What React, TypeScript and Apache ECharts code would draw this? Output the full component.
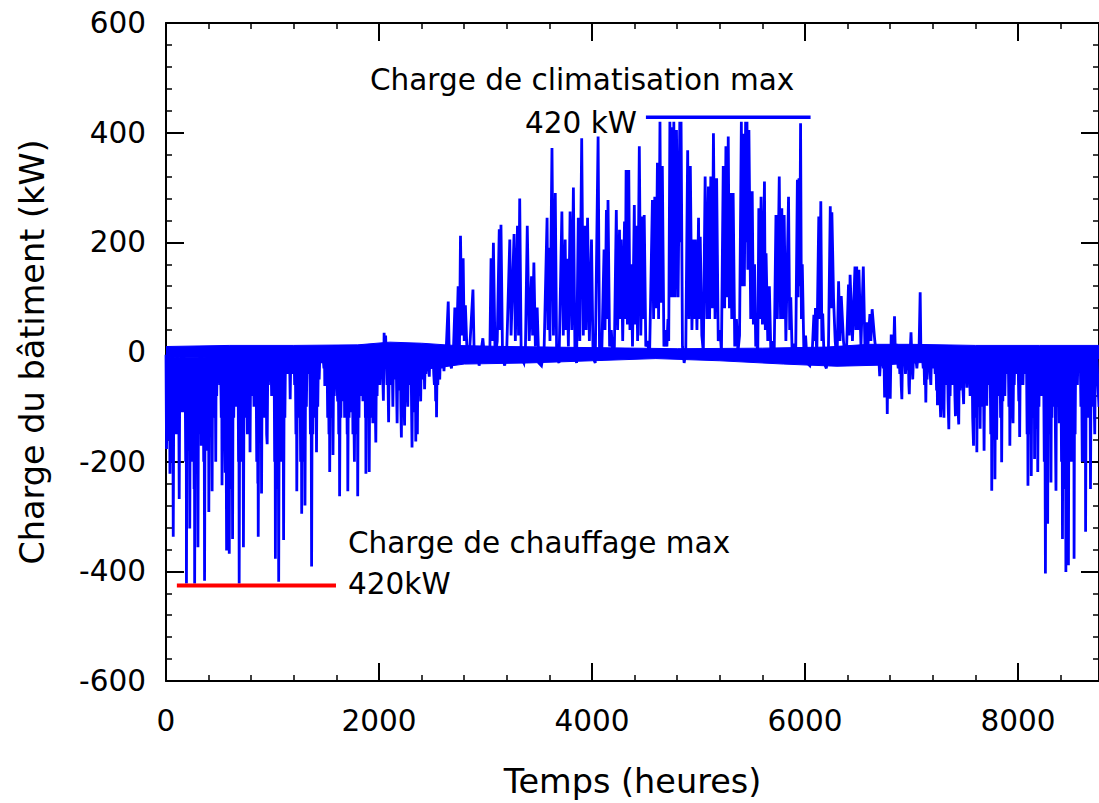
import { useEffect, useRef } from "react";
import * as echarts from "echarts";

// ---------- data ----------
const X_MIN = 0;
const X_MAX = 8760;
const Y_MIN = -600;
const Y_MAX = 600;
const xMajorInterval = 2000;
const xMinorInterval = 400;
const yMajorInterval = 200;
const yMinorInterval = 40;

const xAxisTitle = "Temps (heures)";
const yAxisTitle = "Charge du bâtiment (kW)";
const coolingLabel = "Charge de climatisation max";
const coolingValueLabel = "420 kW";
const heatingLabel = "Charge de chauffage max";
const heatingValueLabel = "420kW";

// hourly building load (kW): cooling > 0, heating < 0 (peaks)
const winterLoad: [number, number][] = [
  [0,-5],[5,-177],[11,-10],[16,-160],[22,-5],[28,-150],[33,-10],[37,-222],[42,-10],[47,-200],[52,-10],[58,-120],[63,-5],[68,-337],[74,-15],[80,-150],[86,-10],[92,-120],[96,-10],[100,-150],[106,-5],[112,-60],[118,-10],[124,-268],[130,-10],[136,-110],[142,-5],[150,-90],[155,-10],[161,-110],[168,-5],[174,-60],[179,-10],[185,-200],[190,-10],[192,-422],[197,-15],[205,-150],[210,-10],[216,-180],[220,-10],[223,-322],[229,-10],[235,-140],[240,-10],[245,-200],[250,-10],[255,-100],[260,-10],[264,-250],[267,-10],[269,-422],[275,-15],[280,-200],[286,-10],[292,-220],[296,-10],[300,-356],[306,-15],[312,-150],[318,-5],[324,-120],[328,-10],[331,-171],[337,-5],[342,-90],[348,-10],[354,-200],[358,-10],[362,-417],[368,-15],[374,-180],[380,-10],[386,-120],[392,-10],[397,-180],[400,-10],[402,-292],[408,-10],[413,-150],[418,-10],[424,-150],[429,-10],[433,-254],[438,-10],[444,-100],[450,-5],[456,-120],[462,-10],[467,-200],[471,-10],[476,-80],[482,-5],[490,-40],[498,-5],[505,-60],[512,-5],[519,-120],[523,-10],[526,-243],[532,-10],[538,-150],[544,-10],[550,-100],[556,-220],[562,-10],[569,-362],[574,-15],[580,-200],[584,-10],[587,-250],[591,-10],[594,-368],[599,-15],[605,-200],[610,-10],[615,-250],[620,-10],[625,-341],[630,-10],[636,-120],[642,-5],[650,-60],[656,-100],[662,-5],[670,-30],[676,-5],[681,-200],[684,-10],[687,-422],[693,-15],[699,-200],[705,-10],[711,-90],[716,-200],[722,-10],[727,-356],[733,-10],[739,-120],[745,-5],[752,-90],[758,-10],[764,-150],[770,-10],[776,-90],[782,-120],[786,-10],[789,-183],[795,-10],[801,-80],[808,-5],[815,-60],[820,-5],[826,-100],[832,-10],[838,-60],[845,-5],[852,-200],[858,-10],[862,-240],[864,-10],[866,-337],[872,-15],[878,-150],[884,-10],[890,-160],[894,-10],[897,-258],[903,-10],[909,-120],[915,-5],[922,-80],[928,-10],[935,-120],[940,-10],[945,-150],[950,-168],[956,-10],[962,-60],[970,-5],[978,-40],[985,-5],[992,-80],[996,-80],[1002,-5],[1010,-30],[1015,-5],[1020,-200],[1024,-10],[1027,-377],[1032,-15],[1038,-200],[1043,-10],[1049,-250],[1053,-10],[1058,-419],[1064,-15],[1070,-200],[1076,-10],[1082,-90],[1088,-10],[1094,-200],[1099,-10],[1104,-343],[1110,-10],[1116,-120],[1122,-5],[1130,-40],[1138,-5],[1145,-10],[1155,-40],[1160,-5],[1166,-86],[1172,-5],[1180,-40],[1187,-5],[1195,-30],[1202,-5],[1208,-60],[1214,-10],[1220,-150],[1225,-10],[1228,-254],[1234,-10],[1240,-120],[1246,-10],[1252,-80],[1258,-10],[1264,-200],[1270,-10],[1274,-295],[1280,-10],[1286,-150],[1292,-10],[1298,-200],[1302,-10],[1305,-280],[1311,-10],[1318,-100],[1324,-5],[1332,-40],[1340,-5],[1350,-10],[1356,-150],[1362,-10],[1367,-391],[1373,-15],[1379,-150],[1385,-10],[1392,-60],[1398,-10],[1404,-120],[1409,-10],[1413,-183],[1419,-10],[1425,-100],[1431,-5],[1438,-50],[1445,-5],[1455,-20],[1465,-5],[1475,-10],[1483,-30],[1488,-5],[1491,-62],[1497,-5],[1505,-30],[1512,-5],[1518,-120],[1524,-10],[1530,-150],[1534,-10],[1537,-219],[1543,-10],[1549,-100],[1555,-10],[1561,-120],[1565,-10],[1568,-188],[1574,-10],[1580,-80],[1586,-5],[1594,-40],[1600,-5],[1606,-60],[1612,-90],[1617,-10],[1622,-150],[1627,-10],[1630,-263],[1636,-10],[1642,-120],[1648,-5],[1655,-60],[1661,-10],[1667,-90],[1673,-10],[1677,-120],[1683,-5],[1690,-30],[1696,-10],[1701,-150],[1704,-10],[1707,-254],[1713,-10],[1719,-120],[1725,-10],[1731,-70],[1737,-10],[1743,-110],[1749,-10],[1755,-150],[1760,-10],[1766,-150],[1769,-200],[1775,-10],[1781,-90],[1787,-5],[1793,-150],[1797,-10],[1800,-263],[1806,-10],[1812,-120],[1818,-5],[1825,-60],[1831,-10],[1837,-80],[1843,-10],[1849,-90],[1855,-5],[1862,-30],[1868,-10],[1872,-120],[1875,-10],[1877,-222],[1883,-10],[1889,-100],[1895,-5],[1901,-120],[1905,-10],[1908,-219],[1914,-10],[1920,-120],[1926,-5],[1932,-90],[1938,-10],[1942,-130],[1948,-10],[1954,-80],[1960,-5],[1965,-100],[1970,-165],[1976,-10],[1982,-80],[1988,-5],[1996,-30],[2002,-5],[2008,-60],[2014,-5],[2022,-30],[2030,-5],[2041,-89],
  [2048,35],[2055,-20],[2062,30],[2068,-10],[2075,-60],[2081,-5],[2090,-128],[2096,-10],[2102,-60],[2108,-5],[2115,-20],[2121,-5],[2127,-60],[2130,-100],[2136,-10],[2142,-50],[2148,-5],[2155,-20],[2161,-5],[2166,-80],[2170,-130],[2176,-10],[2182,-70],[2188,-5],[2195,-40],[2201,-10],[2205,-100],[2210,-156],[2216,-10],[2222,-90],[2228,-5],[2234,-90],[2240,-134],[2246,-10],[2252,-70],[2258,-5],[2264,-60],[2270,-100],[2276,-10],[2282,-60],[2288,-5],[2295,-40],[2301,-10],[2306,-110],[2310,-174],[2316,-10],[2322,-100],[2328,-5],[2335,-110],[2341,-10],[2345,-163],[2351,-10],[2356,-120],[2360,-150],[2366,-10],[2372,-80],[2378,-5],[2385,-40],[2391,-90],[2397,-5],[2404,-50],[2410,-10],[2416,-30],[2422,-5],[2428,-68],[2434,-10],[2440,-40],[2446,-5],[2452,-20],[2460,-5],[2466,-30],[2472,-45],[2478,-5],[2485,-30],[2492,-5],[2500,-20],[2508,-5],[2514,-40],[2520,-60],[2526,-10],[2532,-90],[2537,-10],[2540,-119],[2546,-10],[2552,-60],[2558,-5],[2564,-45],[2570,-50],[2576,-5],[2583,-30],[2590,-5],[2598,-20],[2604,-5],[2610,-35],[2620,0],
];

const summerLoad: [number, number][] = [
  [2630,0],[2650,92],[2660,-10],[2680,-30],[2700,10],[2712,81],[2725,-10],[2743,120],[2755,0],[2765,212],[2778,30],[2790,171],[2800,20],[2811,85],[2830,-20],[2850,0],[2882,114],[2895,-20],[2920,10],[2940,-25],[2975,25],[2995,-20],[3020,10],[3040,-10],[3052,171],[3062,20],[3074,199],[3090,-10],[3110,20],[3129,224],[3138,40],[3145,232],[3160,-10],[3180,-25],[3200,10],[3228,205],[3240,30],[3268,215],[3280,20],[3300,230],[3310,30],[3321,280],[3335,-10],[3360,-20],[3375,10],[3392,230],[3410,20],[3432,138],[3442,30],[3454,163],[3468,10],[3485,81],[3500,-20],[3525,-25],[3550,5],[3578,245],[3586,40],[3593,190],[3605,20],[3624,372],[3638,30],[3655,290],[3668,-10],[3690,-20],[3717,256],[3730,30],[3748,205],[3756,40],[3764,170],[3778,10],[3794,256],[3810,40],[3825,300],[3840,-10],[3855,-20],[3871,245],[3885,20],[3903,390],[3918,30],[3933,230],[3945,40],[3958,245],[3975,20],[3995,205],[4010,-10],[4030,-20],[4057,393],[4070,10],[4090,-15],[4113,187],[4122,40],[4135,259],[4142,60],[4150,277],[4165,10],[4181,40],[4195,-10],[4210,10],[4228,259],[4240,40],[4258,223],[4266,60],[4274,205],[4288,20],[4305,238],[4312,60],[4320,332],[4332,50],[4345,332],[4356,40],[4367,160],[4380,10],[4397,268],[4405,50],[4413,230],[4428,20],[4444,375],[4458,30],[4475,247],[4482,60],[4490,250],[4505,10],[4521,20],[4540,-10],[4567,277],[4578,60],[4589,283],[4600,80],[4614,345],[4625,60],[4638,420],[4648,90],[4660,339],[4675,10],[4691,40],[4703,10],[4713,60],[4720,20],[4731,420],[4740,100],[4752,410],[4760,100],[4768,420],[4780,100],[4793,405],[4808,100],[4824,420],[4830,200],[4836,420],[4849,10],[4865,-20],[4880,0],[4898,368],[4910,60],[4923,339],[4938,40],[4954,205],[4962,60],[4970,205],[4985,40],[5000,245],[5008,60],[5016,210],[5031,30],[5045,0],[5062,320],[5078,60],[5093,302],[5104,60],[5115,320],[5128,80],[5140,399],[5155,60],[5170,317],[5185,20],[5202,40],[5215,0],[5232,339],[5245,80],[5257,375],[5268,100],[5279,393],[5290,80],[5300,290],[5312,60],[5325,290],[5340,10],[5356,60],[5370,0],[5385,30],[5402,420],[5410,120],[5418,398],[5430,120],[5442,420],[5450,200],[5455,420],[5463,150],[5473,405],[5490,60],[5504,293],[5515,50],[5526,160],[5537,10],[5548,20],[5556,-10],[5566,262],[5576,60],[5587,283],[5600,50],[5619,311],[5627,40],[5634,180],[5650,20],[5665,120],[5680,-10],[5696,20],[5710,-10],[5727,250],[5740,60],[5758,320],[5770,60],[5782,262],[5793,60],[5804,250],[5820,20],[5845,283],[5856,40],[5866,100],[5880,-10],[5897,15],[5912,-10],[5928,314],[5935,100],[5943,317],[5950,120],[5958,417],[5966,60],[5974,160],[5990,-10],[6005,30],[6020,-20],[6045,-25],[6065,-10],[6083,68],[6090,20],[6098,80],[6110,-10],[6129,247],[6138,60],[6148,275],[6158,20],[6166,70],[6180,-20],[6200,-30],[6220,10],[6237,266],[6245,80],[6252,255],[6268,96],[6283,20],[6300,-20],[6315,129],[6328,20],[6340,102],[6361,20],[6385,-25],[6408,123],[6415,30],[6423,141],[6445,20],[6469,156],[6477,40],[6485,156],[6495,40],[6506,150],[6525,10],[6547,156],[6562,10],[6578,54],[6590,10],[6609,69],[6618,20],[6630,78],[6655,20],
];

const autumnLoad: [number, number][] = [
  [6680,-20],[6690,0],[6701,-44],[6715,10],[6725,-10],[6735,-30],[6741,-5],[6747,-83],[6753,-5],[6760,-40],[6766,-5],[6772,-113],[6778,-5],[6785,-30],[6792,-5],[6800,-85],[6809,32],[6817,-10],[6825,-20],[6832,0],[6840,65],[6848,-5],[6856,15],[6866,-10],[6875,-30],[6882,0],[6890,-40],[6897,-5],[6903,-60],[6909,-86],[6915,-5],[6925,-20],[6935,0],[6943,-40],[6949,-40],[6956,0],[6962,10],[6970,-10],[6975,-60],[6979,-77],[6986,-5],[6995,36],[7003,-10],[7011,-50],[7020,0],[7030,10],[7040,-10],[7050,-30],[7060,-5],[7070,0],[7081,109],[7088,-5],[7094,10],[7102,-10],[7110,-30],[7116,-5],[7122,-60],[7128,-5],[7134,-92],[7140,-5],[7146,-50],[7152,-5],[7160,-20],[7168,-5],[7175,-40],[7181,-60],[7187,-5],[7195,-30],[7202,-5],[7210,-30],[7215,-5],[7222,-40],[7228,-5],[7235,-70],[7240,-10],[7243,-97],[7249,-10],[7255,-60],[7261,-5],[7267,-80],[7273,-119],[7279,-10],[7285,-80],[7291,-5],[7297,-90],[7304,-120],[7310,-10],[7316,-60],[7322,-5],[7330,-20],[7337,-5],[7343,-90],[7350,-141],[7356,-10],[7362,-80],[7368,-5],[7375,-40],[7382,-60],[7388,-5],[7395,-20],[7401,-5],[7407,-80],[7412,-117],[7418,-10],[7424,-80],[7430,-5],[7436,-100],[7443,-132],[7449,-10],[7455,-70],[7461,-5],[7468,-30],[7475,-5],[7481,-60],[7489,-95],[7495,-5],[7501,-50],[7507,-5],[7514,-40],[7520,-65],[7526,-5],[7533,-40],[7540,-5],
  [7550,-80],[7556,-5],[7562,-60],[7568,-10],[7574,-120],[7582,-171],[7588,-10],[7593,-100],[7598,-5],[7604,-120],[7610,-10],[7613,-183],[7619,-10],[7624,-100],[7630,-5],[7636,-90],[7641,-10],[7644,-140],[7650,-10],[7656,-80],[7662,-5],[7668,-100],[7674,-10],[7681,-180],[7687,-10],[7692,-80],[7698,-5],[7703,-70],[7706,-98],[7712,-5],[7718,-60],[7724,-5],[7731,-30],[7737,-10],[7744,-150],[7750,-10],[7753,-253],[7759,-10],[7764,-150],[7769,-10],[7775,-160],[7780,-10],[7783,-232],[7789,-10],[7794,-60],[7797,-10],[7799,-160],[7805,-10],[7811,-80],[7817,-5],[7824,-30],[7830,-10],[7836,-120],[7842,-10],[7846,-201],[7852,-10],[7857,-90],[7863,-5],[7870,-50],[7876,-80],[7882,-5],[7889,-40],[7895,-5],[7902,-20],[7908,-5],[7914,-100],[7920,-10],[7923,-171],[7929,-10],[7934,-100],[7940,-5],[7946,-90],[7953,-130],[7959,-10],[7964,-60],[7970,-5],[7977,-30],[7984,-40],[7990,-5],[8000,-10],[8007,-90],[8011,-5],[8015,-155],[8021,-10],[8026,-60],[8032,-5],[8039,-40],[8046,-60],[8052,-5],[8060,-40],[8066,-5],[8073,-20],[8079,-5],[8085,-150],[8090,-10],[8093,-244],[8099,-10],[8104,-150],[8110,-10],[8116,-150],[8121,-10],[8124,-226],[8130,-10],[8135,-120],[8141,-10],[8147,-120],[8152,-10],[8155,-195],[8161,-10],[8166,-100],[8171,-5],[8177,-140],[8182,-10],[8185,-219],[8191,-10],[8196,-100],[8202,-5],[8208,-50],[8213,-5],[8216,-80],[8222,-5],[8228,-40],[8234,-5],[8240,-20],[8246,-200],[8251,-10],[8257,-404],[8262,-10],[8266,-200],[8270,-10],[8274,-200],[8278,-313],[8283,-10],[8288,-150],[8293,-10],[8300,-150],[8305,-10],[8309,-238],[8314,-10],[8318,-120],[8322,-5],[8327,-70],[8331,-100],[8336,-5],[8341,-50],[8346,-5],[8351,-150],[8356,-253],[8361,-10],[8366,-100],[8371,-5],[8377,-80],[8383,-10],[8387,-130],[8392,-5],[8397,-60],[8402,-5],[8408,-200],[8413,-10],[8417,-341],[8422,-10],[8426,-200],[8431,-10],[8436,-100],[8441,-250],[8445,-10],[8449,-401],[8454,-10],[8458,-250],[8462,-10],[8466,-250],[8470,-10],[8473,-389],[8478,-10],[8482,-150],[8487,-5],[8491,-120],[8495,-200],[8500,-10],[8505,-100],[8510,-5],[8516,-40],[8520,-200],[8524,-10],[8526,-377],[8531,-10],[8536,-150],[8541,-5],[8547,-50],[8552,-5],[8557,-60],[8563,-5],[8570,-30],[8577,-5],[8584,-10],[8590,-100],[8596,-10],[8603,-200],[8608,-10],[8613,-100],[8618,-5],[8624,-60],[8629,-200],[8632,-10],[8634,-328],[8640,-10],[8645,-120],[8650,-5],[8657,-40],[8663,-5],[8670,-120],[8675,-10],[8680,-250],[8686,-10],[8691,-100],[8697,-5],[8703,-40],[8709,-5],[8714,-80],[8720,-150],[8726,-10],[8731,-60],[8737,-5],[8743,-20],[8750,-60],[8760,-100],
];

// dense daily oscillation band around zero (upper / lower envelope)
const bandUpper: [number, number][] = [
  [0,10],[600,12],[1200,12],[1800,13],[2100,18],[2400,16],[2700,12],[3200,10],[4000,8],[4800,6],[5600,7],[6200,9],[6600,14],[7000,14],[7600,12],[8200,12],[8760,12],
];
const bandLower: [number, number][] = [
  [0,-10],[800,-12],[1600,-16],[2100,-26],[2500,-30],[2800,-22],[3400,-20],[4000,-16],[4600,-12],[5200,-16],[5800,-22],[6300,-26],[6700,-24],[7200,-18],[7800,-14],[8760,-12],
];

// max-load marker lines
const coolingMaxLine: [number, number][] = [[4506, 428], [6052, 428]];
const heatingMaxLine: [number, number][] = [[102, -426], [1596, -426]];

const FONT = "DejaVu Sans";
const BLUE = "#0000ff";
const RED = "#ff0000";
const MAJOR_LEN = 18;
const MINOR_LEN = 6;

const plainNumber = (v: number) => String(v);

// axis that only draws the frame line (and optionally labels)
function frameAxis(extra: any) {
  return {
    type: "value",
    axisLine: { show: true, onZero: false, lineStyle: { color: "#000", width: 2 } },
    axisTick: { show: false },
    splitLine: { show: false },
    ...extra,
  };
}
// axis that only draws ticks; shifted inward by the tick length so ticks point into the plot
function tickAxis(position: string, min: number, max: number, interval: number, len: number, width: number) {
  return {
    type: "value",
    position,
    min, max, interval,
    offset: -len,
    axisLine: { show: false, onZero: false },
    axisLabel: { show: false },
    splitLine: { show: false },
    axisTick: { show: true, inside: false, length: len, lineStyle: { color: "#000", width } },
  };
}

export default function App() {
  const ref = useRef<HTMLDivElement>(null);
  useEffect(() => {
    if (!ref.current) return;
    const chart = echarts.init(ref.current, undefined, { renderer: "svg" });
    const labelStyle = { color: "#000", fontFamily: FONT, fontSize: 29.5, formatter: plainNumber };
    const titleStyle = { color: "#000", fontFamily: FONT, fontSize: 33.5 };
    const lineSeries = (name: string, data: [number, number][], color: string, width: number, area = false) => ({
      type: "line", name, data, showSymbol: false, symbol: "none", silent: true,
      xAxisIndex: 0, yAxisIndex: 0,
      lineStyle: { color, width, join: "miter" },
      ...(area ? { areaStyle: { color, opacity: 1 } } : {}),
    });
    const option: any = {
      animation: false,
      backgroundColor: "#fff",
      grid: { left: 166, top: 23, width: 944, height: 660, containLabel: false },
      xAxis: [
        frameAxis({
          position: "bottom", min: X_MIN, max: X_MAX, interval: xMajorInterval,
          name: xAxisTitle, nameLocation: "middle", nameGap: 83, nameTextStyle: titleStyle,
          axisLabel: { ...labelStyle, margin: 25, showMaxLabel: false },
        }),
        frameAxis({ position: "top", min: X_MIN, max: X_MAX, interval: xMajorInterval, axisLabel: { show: false } }),
        tickAxis("bottom", X_MIN, X_MAX, xMajorInterval, MAJOR_LEN, 2),
        tickAxis("bottom", X_MIN, X_MAX, xMinorInterval, MINOR_LEN, 1.5),
        tickAxis("top", X_MIN, X_MAX, xMajorInterval, MAJOR_LEN, 2),
        tickAxis("top", X_MIN, X_MAX, xMinorInterval, MINOR_LEN, 1.5),
      ],
      yAxis: [
        frameAxis({
          position: "left", min: Y_MIN, max: Y_MAX, interval: yMajorInterval,
          name: yAxisTitle, nameLocation: "middle", nameGap: 117, nameTextStyle: titleStyle,
          axisLabel: { ...labelStyle, margin: 20 },
        }),
        frameAxis({ position: "right", min: Y_MIN, max: Y_MAX, interval: yMajorInterval, axisLabel: { show: false } }),
        tickAxis("left", Y_MIN, Y_MAX, yMajorInterval, MAJOR_LEN, 2),
        tickAxis("left", Y_MIN, Y_MAX, yMinorInterval, MINOR_LEN, 1.5),
        tickAxis("right", Y_MIN, Y_MAX, yMajorInterval, MAJOR_LEN, 2),
        tickAxis("right", Y_MIN, Y_MAX, yMinorInterval, MINOR_LEN, 1.5),
      ],
      series: [
        lineSeries("bandUpper", bandUpper, BLUE, 1, true),
        lineSeries("bandLower", bandLower, BLUE, 1, true),
        lineSeries("winter", winterLoad, BLUE, 2.8),
        lineSeries("summer", [...winterLoad.slice(-1), ...summerLoad, ...autumnLoad.slice(0, 1)], BLUE, 2.8),
        lineSeries("autumn", autumnLoad, BLUE, 2.8),
        lineSeries("coolingMax", coolingMaxLine, BLUE, 3.5),
        lineSeries("heatingMax", heatingMaxLine, RED, 4),
      ],
      graphic: [
        { type: "text", x: 370, y: 80, style: { text: coolingLabel, fill: "#000", font: `29.5px '${FONT}'`, align: "left", verticalAlign: "middle" } },
        { type: "text", x: 637, y: 123, style: { text: coolingValueLabel, fill: "#000", font: `29.5px '${FONT}'`, align: "right", verticalAlign: "middle" } },
        { type: "text", x: 348, y: 543, style: { text: heatingLabel, fill: "#000", font: `29.5px '${FONT}'`, align: "left", verticalAlign: "middle" } },
        { type: "text", x: 348, y: 584, style: { text: heatingValueLabel, fill: "#000", font: `29.5px '${FONT}'`, align: "left", verticalAlign: "middle" } },
      ],
    };
    chart.setOption(option);
    return () => chart.dispose();
  }, []);
  return (
    <div
      ref={ref}
      style={{ position: "absolute", left: 0, top: 0, width: 1099, height: 803, background: "#fff" }}
    />
  );
}
